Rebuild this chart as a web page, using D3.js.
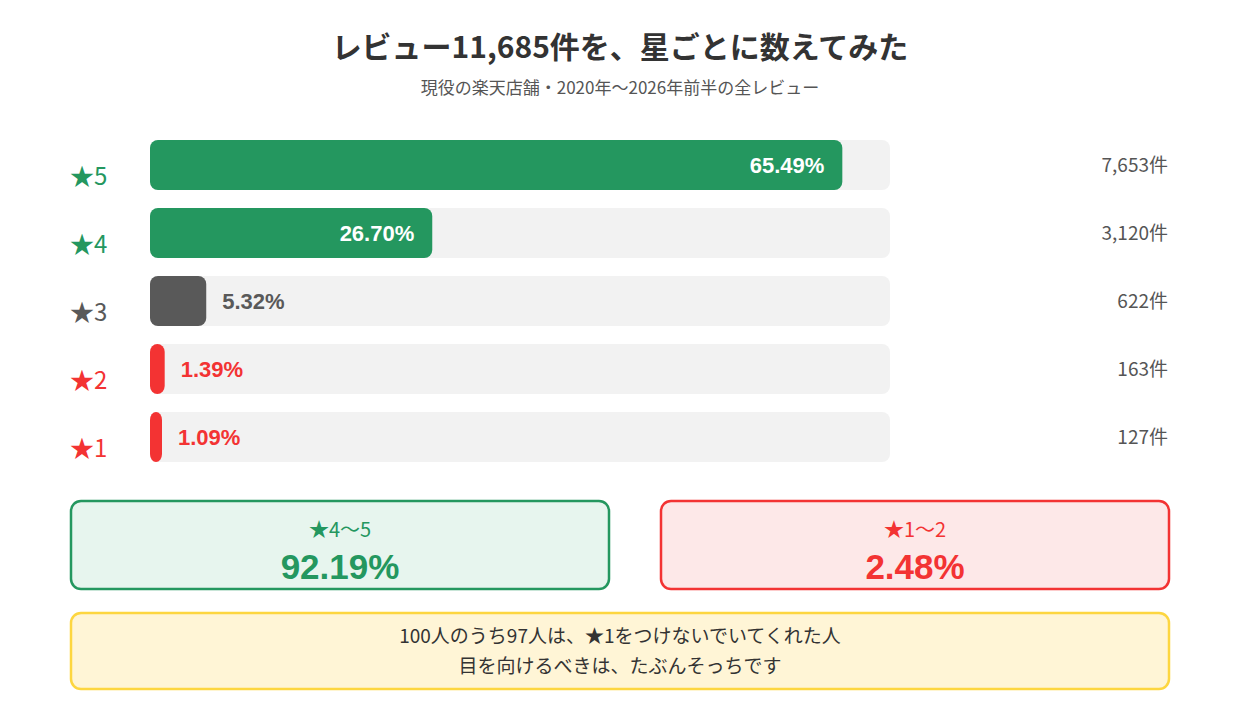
<!DOCTYPE html>
<html><head><meta charset="utf-8">
<script src="https://cdn.jsdelivr.net/npm/d3@7"></script>
<style>body{margin:0;background:#fff}svg{display:block}</style>
</head><body><svg id="c" width="1240" height="720"></svg>
<script>
const stars = ["★5","★4","★3","★2","★1"];
const pcts = [65.49, 26.70, 5.32, 1.39, 1.09];
const counts = ["7,653件","3,120件","622件","163件","127件"];
const colors = ["#24975f","#24975f","#595959","#f33333","#f33333"];
const JP = "'Noto Sans CJK JP', sans-serif";
const svg = d3.select("#c");
svg.append("text").attr("x",620).attr("y",58).attr("text-anchor","middle").attr("font-family",JP)
  .attr("font-size",30).attr("font-weight",700).attr("fill","#333").text("レビュー11,685件を、星ごとに数えてみた");
svg.append("text").attr("x",620).attr("y",94).attr("text-anchor","middle").attr("font-family",JP)
  .attr("font-size",17).attr("fill","#555").text("現役の楽天店舗・2020年〜2026年前半の全レビュー");
const x = d3.scaleLinear().domain([0,70]).range([150,890]);
const y = d3.scaleBand().domain(stars).range([140,462]).paddingInner(18/68).paddingOuter(0);
const bh = y.bandwidth();
stars.forEach((s,i)=>{
  const yy = y(s);
  svg.append("rect").attr("x",150).attr("y",yy).attr("width",740).attr("height",bh).attr("rx",8).attr("fill","#f2f2f2");
  const w = Math.max(x(pcts[i])-150, 12);
  svg.append("rect").attr("x",150).attr("y",yy).attr("width",w).attr("height",bh).attr("rx",8).attr("fill",colors[i]);
  const inside = pcts[i] > 20;
  svg.append("text").attr("x", inside ? 150+w-18 : 150+w+16).attr("y",yy+bh/2+8)
    .attr("text-anchor", inside?"end":"start").attr("font-family","'Liberation Sans',Arial,sans-serif")
    .attr("font-weight",700).attr("font-size",22).attr("fill", inside?"#fff":colors[i]).text(pcts[i].toFixed(2)+"%");
  svg.append("text").attr("x",70).attr("y",yy+bh/2+20).attr("font-family",JP).attr("font-size",24)
    .attr("fill",colors[i]).text(s);
  svg.append("text").attr("x",1168).attr("y",yy+bh/2+7).attr("text-anchor","end").attr("font-family",JP)
    .attr("font-size",19).attr("fill","#555").text(counts[i]);
});
const boxes = [
  {x:71,w:538,stroke:"#24975f",fill:"#e7f5ee",label:"★4〜5",value:(pcts[0]+pcts[1]).toFixed(2)+"%"},
  {x:661,w:508,stroke:"#f33333",fill:"#fde8e8",label:"★1〜2",value:(pcts[3]+pcts[4]).toFixed(2)+"%"}];
boxes.forEach(b=>{
  svg.append("rect").attr("x",b.x).attr("y",501).attr("width",b.w).attr("height",88).attr("rx",10)
    .attr("fill",b.fill).attr("stroke",b.stroke).attr("stroke-width",2.5);
  svg.append("text").attr("x",b.x+b.w/2).attr("y",537).attr("text-anchor","middle").attr("font-family",JP)
    .attr("font-size",20).attr("fill",b.stroke).text(b.label);
  svg.append("text").attr("x",b.x+b.w/2).attr("y",579).attr("text-anchor","middle").attr("font-family","'Liberation Sans',Arial,sans-serif")
    .attr("font-weight",700).attr("font-size",35).attr("fill",b.stroke).text(b.value);
});
svg.append("rect").attr("x",71).attr("y",613).attr("width",1098).attr("height",76).attr("rx",10)
  .attr("fill","#fff5d6").attr("stroke","#fdd640").attr("stroke-width",2.5);
["100人のうち97人は、★1をつけないでいてくれた人","目を向けるべきは、たぶんそっちです"].forEach((t,i)=>{
  svg.append("text").attr("x",620).attr("y",643+i*30).attr("text-anchor","middle").attr("font-family",JP)
    .attr("font-size",19).attr("fill","#333").text(t);
});
</script></body></html>
